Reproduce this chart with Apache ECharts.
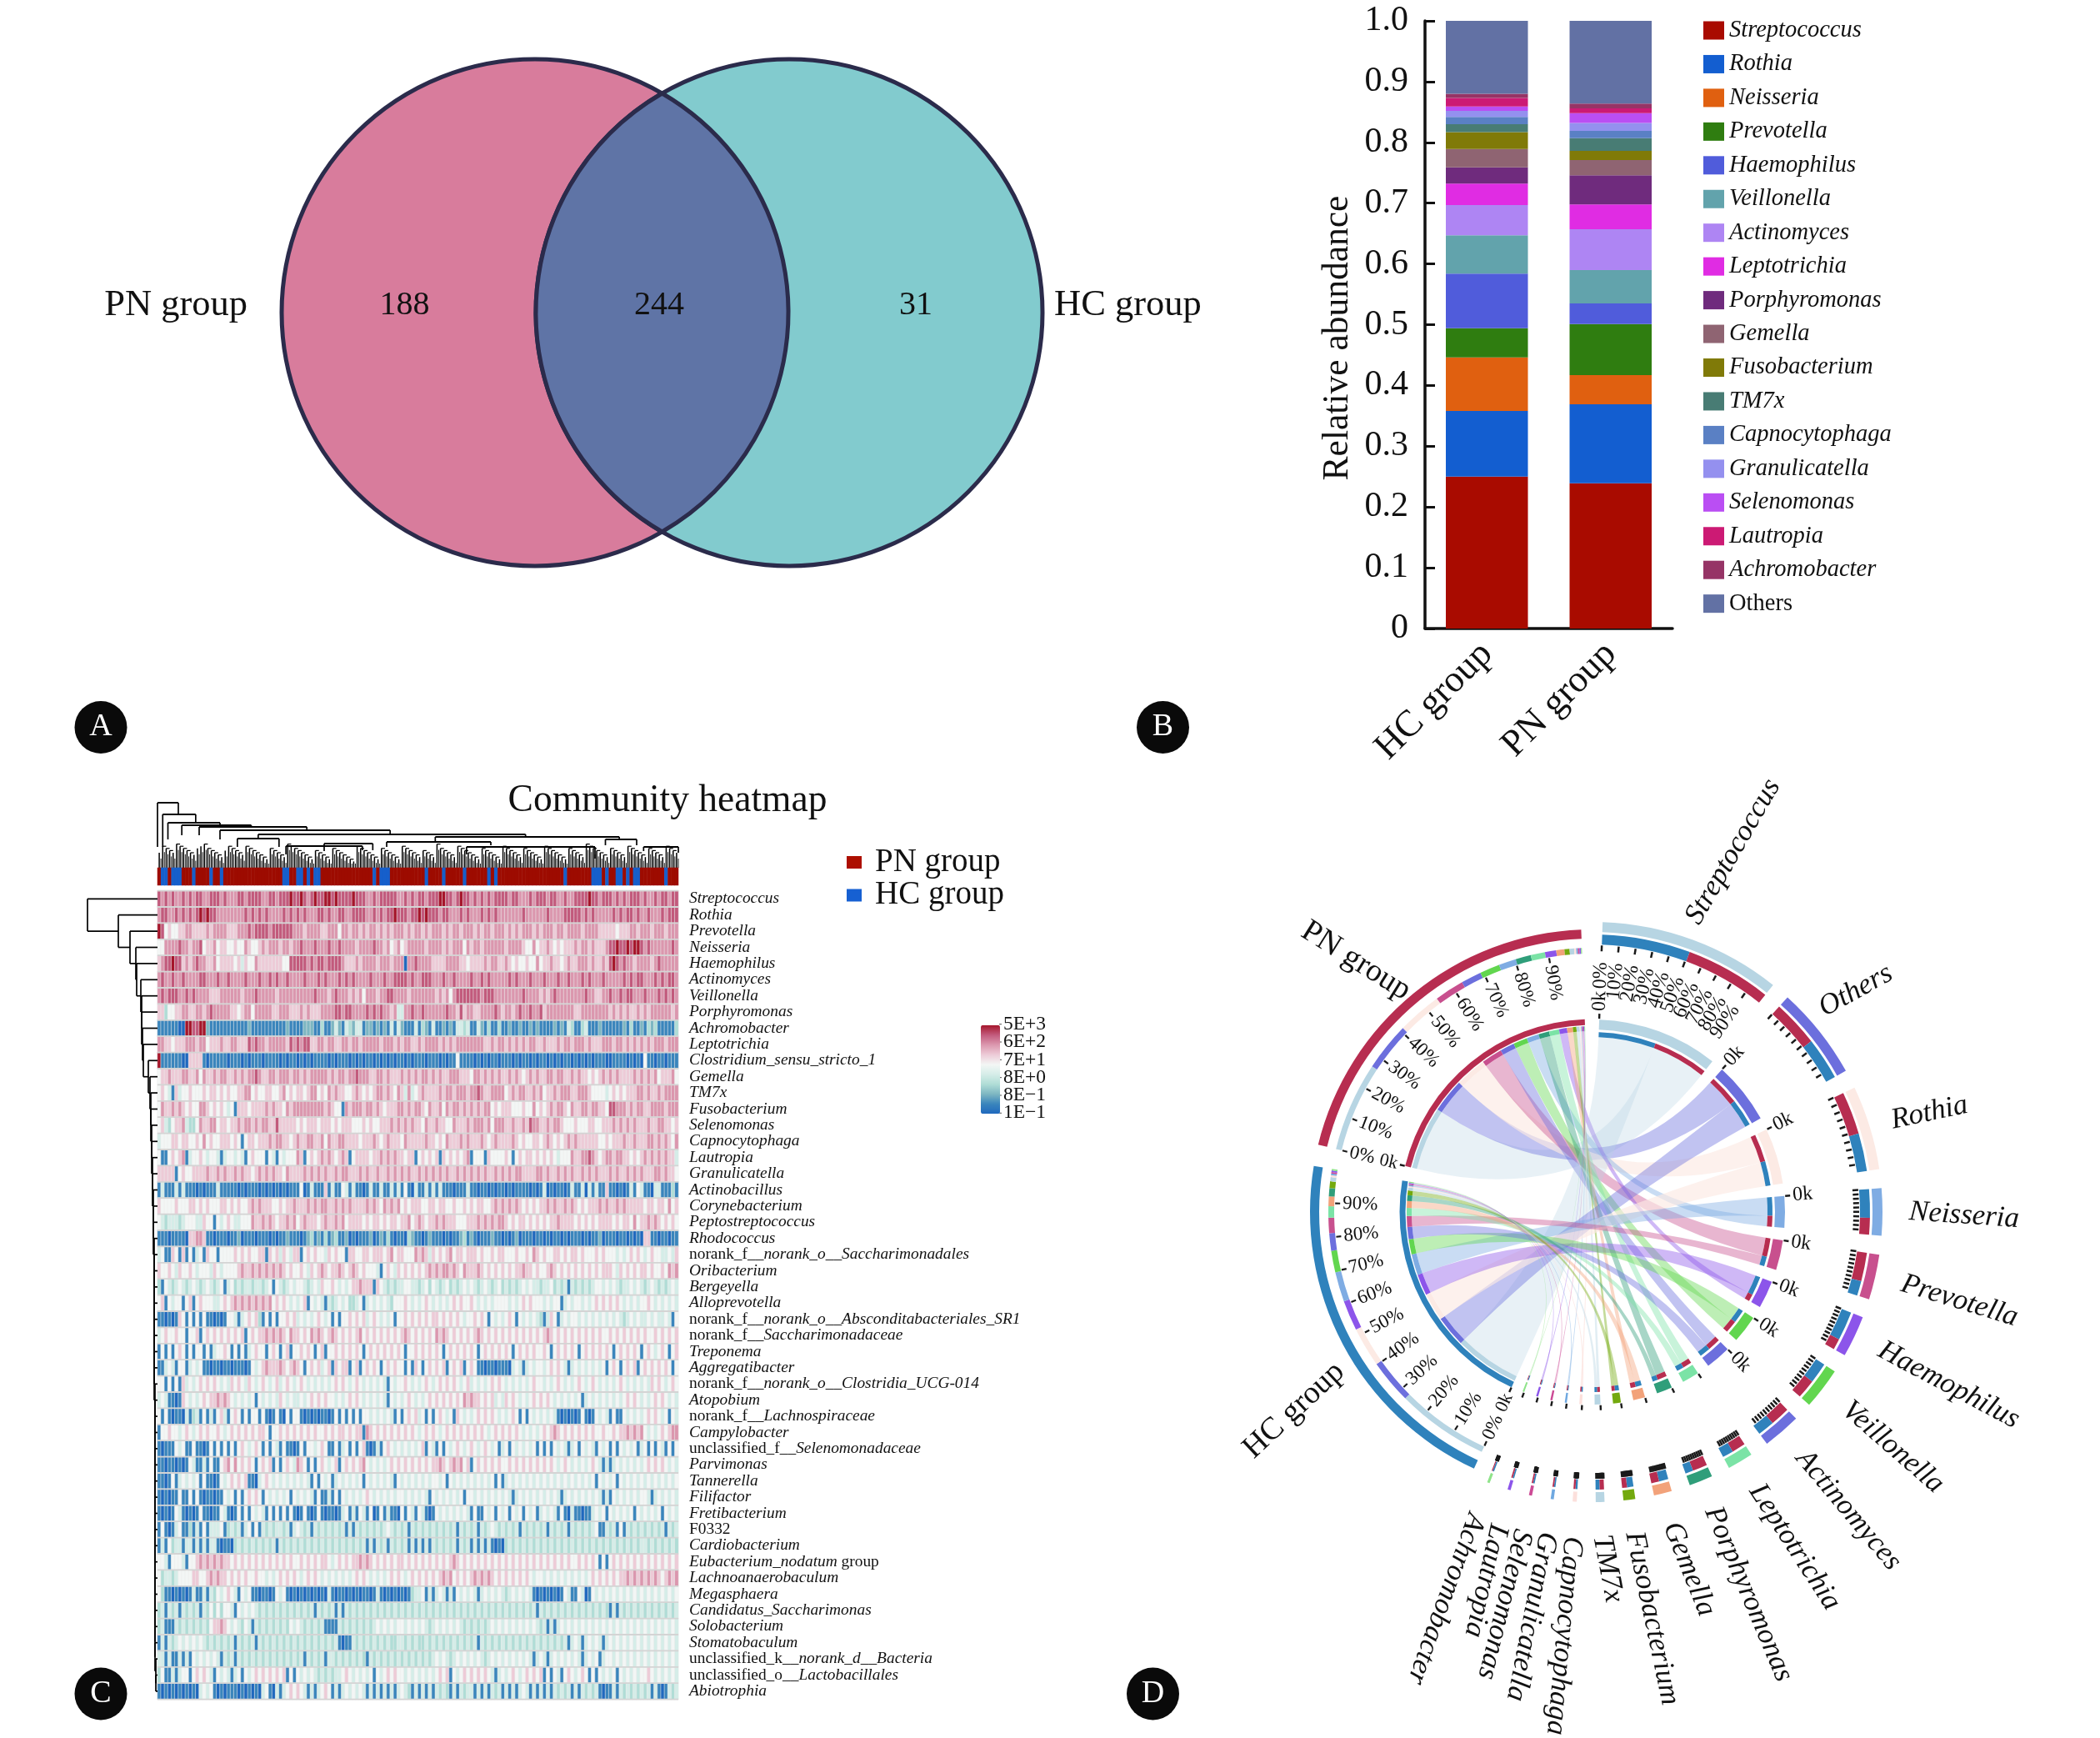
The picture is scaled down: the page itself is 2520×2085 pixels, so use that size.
<!DOCTYPE html>
<html><head><meta charset="utf-8"><style>html,body{margin:0;padding:0;background:#fff}#c{width:2520px;height:2085px}</style>
<script src="https://cdn.jsdelivr.net/npm/echarts@6/dist/echarts.min.js"></script></head><body><div id="c"></div>
<script>
const FONT='"Liberation Serif"';
// ---------- Panel A
const vennNames=['PN group','HC group'];
const vennCounts=[188,244,31];
// ---------- Panel B
const barGroups=['HC group','PN group'];
const barGenera=['Streptococcus','Rothia','Neisseria','Prevotella','Haemophilus','Veillonella','Actinomyces','Leptotrichia','Porphyromonas','Gemella','Fusobacterium','TM7x','Capnocytophaga','Granulicatella','Selenomonas','Lautropia','Achromobacter','Others'];
const barHC=[.25,.108,.088,.048,.09,.063,.05,.035,.027,.03,.028,.013,.012,.01,.007,.014,.007,.12];
const barPN=[.239,.13,.048,.084,.034,.055,.067,.041,.048,.025,.015,.021,.012,.013,.016,.008,.008,.136];
const barColors=['#A90B00','#135ED0','#E06010','#2F7D10','#505CDB','#62A3AC','#AE85F3','#E02CE3','#6F2B7D','#8F6472','#807A08','#487C74','#5A80C4','#9490EF','#BA4EF3','#CC1A74','#963466','#6271A4'];
// ---------- Panel C
const heatRowNames=['Streptococcus','Rothia','Prevotella','Neisseria','Haemophilus','Actinomyces','Veillonella','Porphyromonas','Achromobacter','Leptotrichia','Clostridium_sensu_stricto_1','Gemella','TM7x','Fusobacterium','Selenomonas','Capnocytophaga','Lautropia','Granulicatella','Actinobacillus','Corynebacterium','Peptostreptococcus','Rhodococcus','norank_f__norank_o__Saccharimonadales','Oribacterium','Bergeyella','Alloprevotella','norank_f__norank_o__Absconditabacteriales_SR1','norank_f__Saccharimonadaceae','Treponema','Aggregatibacter','norank_f__norank_o__Clostridia_UCG-014','Atopobium','norank_f__Lachnospiraceae','Campylobacter','unclassified_f__Selenomonadaceae','Parvimonas','Tannerella','Filifactor','Fretibacterium','F0332','Cardiobacterium','Eubacterium_nodatum group','Lachnoanaerobaculum','Megasphaera','Candidatus_Saccharimonas','Solobacterium','Stomatobaculum','unclassified_k__norank_d__Bacteria','unclassified_o__Lactobacillales','Abiotrophia'];
const heatRows=[
"8787877878 7887788878 7778878888 7788788898 8987898899 8988889888 7787888887 7878788788 8998878988 7878787888 8788777878 8878877877 8888988788 8787878887 8778788788",
"7887787878 7898988777 7777787878 7877778787 8787778878 7788778888 7787878898 8878898988 8788777878 7778787877 7777787777 7787777888 8878787777 7878788787 7877787888",
"9856556677 6666767777 6667778788 8878888887 7767777667 7757767767 6776767677 7676776767 7767677677 7676776777 6767677767 6777677677 7767777666 6656667767 7767776777",
"5577778776 7785667566 5565576556 7677767767 7877787778 7787777677 7787767567 5677777677 7767677757 6776777777 6777765575 6676565666 7677676667 8898898998 7877777787",
"6788988676 7877667566 6656465576 6666665588 8887878878 8887666767 7776777677 7077877776 6667777665 6666767766 7656556557 5667665676 6777676676 8987877677 7767877777",
"7877877877 7788777877 8777787778 7787877877 7787778787 7787878777 7877787788 8878778887 7787787777 8778787777 7878777877 7877787787 7787877787 7777878788 7778787887",
"7878887787 8777766677 7777677787 7777677777 7777787776 7877767675 7776778877 7767777777 6767578888 8887888777 7777787777 6767877777 7778776677 8778788777 8777878787",
"6635566776 6776787777 7665677577 7776677766 6767666777 7887887777 8787877674 4778778777 7778776867 7667777876 7767877877 8677777777 6677777777 6767676676 7677777767",
"1111110099 8899211111 1111112111 1111111211 1122211311 2421432441 2212121414 2111413214 1121214434 1142131131 1211211212 1111212143 1134111211 1111213112 1323111113",
"7766566677 7677566676 6776668787 7677777687 8788667767 7667767767 7777677767 6776676777 7676767777 7777667677 6767676776 6766676776 7776766677 7677676767 6767776777",
"9111111006 6661011111 0111010111 0111101011 0101011110 1011101010 1101010101 1010111011 1010115111 1010101101 1101011010 1101010110 1010101110 0111101010 5110110111",
"5667666776 6757667677 6676767787 6677677767 7676777776 7677677877 7667767666 7676767767 6766777666 5776767676 6767656767 6677677667 6766565676 7676666767 6767566675",
"5654164556 5556566565 6556677565 5665567565 6656775657 6766556765 6567767657 6474567666 6767767776 7787667777 5676776676 7566767776 6777655554 5656566677 6766767777",
"5766767656 5577656565 4516665666 6767665767 7777777767 6551767776 7767656667 7676776576 6757677676 7676775656 6655565575 6567677657 6677677665 8877767677 6677776777",
"5643566743 3576677566 5667677676 7766866666 5656665666 5656665556 5655666767 6767665766 7665576667 6777675777 6676676877 6676776555 6555665566 6767676766 6766776656",
"4555665665 5657565566 6565156656 6676776656 7667766757 6677666656 6676567666 5766666766 5657666767 6667656766 6676565566 5676565676 7666666556 5666766766 6776767657",
"5115656714 5565455414 5545415655 5154154555 7615656767 6567615666 6566767676 6566156565 6165656567 1555165555 6515656656 5656545557 6677876567 7677665656 7676767664",
"6666615655 6666766767 6676766567 6767665766 6676767676 6767766676 7667667676 7676676767 6767667676 7676766767 6767766667 7676676767 6676767666 7676676767 6667767665",
"1411141411 1010111411 1110101110 1010101011 1501411161 4115414110 1411411414 1510411414 1411101114 1101101011 0101111010 1401011014 1140414116 1101014154 1104411131",
"6555565556 6565655566 5656556767 6665565667 6667676776 6767676666 7676576767 5656665566 5665565565 6566556767 6767656565 6676766767 6565666767 6676766666 5665665756",
"5434443455 5446551545 6544555766 7676566767 5676665676 6767566665 6566565665 6675676566 7676665556 6676767677 6565665656 5656676666 5656565666 6565665756 6767656565",
"1110111106 6776110111 0112011101 1101011211 1012312131 2311201011 1201213101 1032110121 1101011231 2101112110 1012011101 1010110101 1101011201 1101101010 6611011011",
"4511651615 1451655155 5565656556 6165646546 6156565546 5655166556 6566656756 6555767646 5656756656 6656556566 5556556576 5655665656 6565556565 5545456565 4565544546",
"6556546556 5455546545 5556766767 6767676565 5654656765 6676567656 5554156546 5656565676 7677676576 6676565656 5656676656 5567656565 6565656566 6546565656 6565565767",
"3154345434 5434543451 4534344344 3451543454 5543454655 6545456676 6616543434 4554434535 4345343454 5434543453 4343454544 3445343414 3434345545 4543445454 3454343454",
"5615455156 1565554456 5676767676 7675656545 4561545414 3454533451 4545454355 5654545654 5454565655 6545454555 5454565655 5454551454 5545456565 6565454545 5654545454",
"1101016515 1515110101 5541456563 1515155656 4545456545 1515565656 4565454515 5656565656 6565656545 5656515454 5651545454 3146514545 5454545454 5454345454 4545445415",
"4565565515 5615656565 6565615656 6767676576 6565767656 7656565675 6565656565 6765656565 7676565656 5676565656 5656565656 5676565656 5656565655 6565656565 6556565656",
"1515156515 1551514556 5151514565 5156515615 5656515615 5656565651 5656565656 5155656565 6515656565 6515656565 6515656565 5651565656 5156565656 5156565651 5654565156",
"1145415514 5451101101 1011101545 6766676567 6515656456 1656615615 6565156565 5151651565 6561565615 6511011011 1045414545 5456565414 5454545451 5651565615 6565656515",
"5515151645 4565656545 4656546545 6545645654 5654545454 5656545654 5454541545 5654545654 5656565456 4545456565 4545454565 5454565454 5654565454 5456545454 5465654565",
"4541101654 5456566767 6545454515 4545465454 4545656565 5454565654 5454541545 4565454565 6565656576 7665656454 6565454565 6565454545 4514545454 5454565654 5456565454",
"5151011041 3415141564 1565151551 5101510515 5101010110 1515151515 5454545415 1565645151 5654516545 4565656545 4565151545 4545410101 0151015454 1511545454 5656545154",
"1556554565 4565655654 5656565656 6515565656 5656565565 6566565661 7656565656 5656545656 5456565656 5656545656 5656545454 5656765656 5656565565 5656676767 5454565677",
"1011154511 5110151515 1515654565 1515415110 1515545651 1514515156 1014156545 4545456154 1515456545 6545654514 5154545451 5151545414 5154541545 1515454514 5151541515",
"1101101015 4114151156 7575656515 6561515654 7651515654 5615656567 5454545656 5656565656 6765676756 1565656565 5656565656 5656545654 5454565414 1454545454 5656565454",
"1101514545 4515110154 5656561104 5654545454 5454151545 1454545451 5454545415 4545454545 5451545454 5454545151 4545454545 4545454545 4545451545 4515454545 4545454545",
"1010115115 1510110115 4515156565 1545454515 4545415114 1515454545 6545454545 5454545415 4545454515 5454545454 5414545454 5454541454 5454545414 1545454545 5414545454",
"1010154101 0151101154 1015151545 4151515151 0151015101 1014514154 1501514110 5154154101 5454545454 1511545154 5154515451 4545415104 1101145451 5454545154 5454515454",
"1510145113 1415144451 3434145151 4343443414 5434143434 3434141434 3434345434 3414343434 3434341434 3414345434 3434143434 3414343414 3434345114 3415143434 3434341434",
"1415344144 1414144101 1034343434 3434143434 3434343434 3434343434 1414341434 3414141414 3434341434 1414141010 3434343434 3434343434 3434343434 3434343434 4343434343",
"5541555415 5676767676 6565656565 6565656565 5656565665 4565656676 7656565656 6565656565 6565676565 6565656565 6565656565 6565656565 5656565151 5656565656 5656565656",
"5344345555 6655676766 5656565565 5454565656 5456565454 5454545656 5454545656 5456565656 5676756565 6767676565 6565656545 5454545454 5454565656 5656676767 6767656767",
"5311010101 4114143545 6541545110 1101545101 0101010104 1011010101 1014101010 1013445141 4541415454 5414545454 3454545410 1010101541 1540154545 4545454545 4545454545",
"3414341434 3414353535 5415454543 4343434343 4343414343 4141434343 4343434343 4343434343 4343434343 4343434343 4343434341 4343434343 4343434343 1414343434 3434343434",
"3411143434 3434356676 5454354143 4343434354 5434343411 1143434343 4345454545 5454545434 5454545434 3434345454 5454545454 3414145454 5454545454 5454545454 5454545454",
"1414345454 5454343434 3414343414 3434343434 3434343434 3410114343 4343434334 4343433434 3434343434 3414343434 3434343434 3434343414 5414545414 5454545454 5454545454",
"4414114141 5454545414 3414343434 3434343434 3414343414 4343434343 1434343434 3434343434 5454345454 5454345454 5454545414 5414545454 5414545145 5454545454 5454545454",
"3511414551 5656541545 4145154565 6565656151 5454543434 3445654545 4515456565 5454545454 5656154565 6565654145 4565456565 6151541565 4565151545 4515454545 5654545454",
"1010101010 1045451010 1110101010 4510414565 6541414565 1414545454 1414141414 5431414141 4343141434 4141414341 4141454141 4141434341 4143434101 1414343434 3414101434"
].map(s=>s.replace(/ /g,''));
const hcColumns=[1,2,4,5,6,10,15,18,36,37,40,41,43,45,46,62,64,65,66,77,82,88,95,97,117,125,126,127,129,132,133,135,137,138,146];
const heatTicks=['5E+3','6E+2','7E+1','8E+0','8E−1','1E−1'];
const colStems="5876598765 4789765436 8765487654 3276543987 6543265432 7654321876 5432765432 8765436543 9765438765 4327654328 7654376543 2876543276 5439876543 7654387654 3765438765".replace(/ /g,'');
const colMerges=[[0,6,78,25,64],[1.5,11,64,25,54],[3,18,54,34,51],[7,27,51,39,49],[12,43,49,39,45],[18,67,45,34,40],[29,106,40,35,37],[23,35,35,25,25],[80,133,37,31,34],[66,96,31,25,27],[129,138,34,27,27],[37,59,26,16,21],[48,62,29,20,21],[89,126,25,16,11],[140,150,25,20,18]];
const rowDepth=[84,47,33,26,25,20,19,19,18,17,11,9,8,8,7,7,6,6,5,5,5,4,4,4,4,4,4,4,4,4,3,3,3,3,3,3,3,3,3,3,3,3,3,3,3,3,3,2,2];
// ---------- Panel D
const chordGenera=['Streptococcus','Others','Rothia','Neisseria','Prevotella','Haemophilus','Veillonella','Actinomyces','Leptotrichia','Porphyromonas','Gemella','Fusobacterium','TM7x','Capnocytophaga','Granulicatella','Selenomonas','Lautropia','Achromobacter'];
const chordPN=[17.5,9.5,8.7,3.4,5.8,2.2,3.9,4,2.8,3,1.6,1,.9,.4,.3,.3,.3,.2];
const chordHC=[18,8.6,7.7,5.8,3,5.9,4.2,3.4,2.2,1.6,1.9,1.3,.8,.4,.3,.3,.3,.3];
const chordFirst='HPPHPHHPPPHHPHHHHH';
const chordColors=['#B7D5E3','#6C6FDD','#FCEAE4','#7FACE3','#C8508E','#8C55EA','#62D64F','#6C6FDD','#7BE3A6','#2F9E7A','#F2A27A','#73A90E','#B7D5E3','#FCE0DC','#6FA8E0','#CC4A95','#8C55EA','#8FE38A'];
const chordPercent=['0%','10%','20%','30%','40%','50%','60%','70%','80%','90%'];

// ---------- layout constants
const PN_C='#B72D50',HC_C='#2F82BC',CX=1911,CY=1454;
const labelR=[368,366,375,380,381,382,383,383,383,383,385,387,388,390,388,390,391,388];
const labelDA=[-1.2,-3,0,0,0,0,0,0,0,0,0,0,0,0,0,0,0,0];
const labelRot=[-60,-29,-12,4,17,28,41,50,57,67,68,78,79,95,101,104,103,110];
const rad=d=>(d-90)*Math.PI/180;
const sum=a=>a.reduce((x,y)=>x+y,0);
const GAP=3.75, S0=2, S1=201.3;
const tot=chordPN.reduce((s,v,i)=>s+v+chordHC[i],0);
const kS=(S1-S0-17*GAP)/tot;
let arcsEl=[],chordEl=[],textEl=[],tickEl=[];
const sp=[];let ang=S0;
chordGenera.forEach((g,i)=>{const span=(chordPN[i]+chordHC[i])*kS;sp.push({a0:ang,a1:ang+span});ang+=span+GAP;});
const groupDefs=[{name:'PN group',vals:chordPN,a0:283.8,a1:357.7,c:PN_C,key:'P',lr:414,lt:316.7,lrot:32},{name:'HC group',vals:chordHC,a0:204.8,a1:279.4,c:HC_C,key:'H',lr:430,lt:236.4,lrot:-43}];
const arc=(r0,r,a0,a1,c)=>arcsEl.push({k:'arc',r0,r,a0,a1,c});
const tick=(r0,r,a,w,c)=>tickEl.push({k:'tick',r0,r,a,w,c});
const text=(r,a,rot,t,font,align)=>textEl.push({k:'text',r,a,rot,t,font,align});
chordGenera.forEach((g,i)=>{
  const s=sp[i],span=s.a1-s.a0,tv=chordPN[i]+chordHC[i];
  const first=chordFirst[i],v1=first==='P'?chordPN[i]:chordHC[i];
  const mid=s.a0+span*v1/tv,c1=first==='P'?PN_C:HC_C,c2=first==='P'?HC_C:PN_C;
  s.P=first==='P'?[s.a0,mid]:[mid,s.a1]; s.H=first==='H'?[s.a0,mid]:[mid,s.a1];
  arc(336,348,s.a0,s.a1,chordColors[i]);
  arc(321,333,s.a0,mid,c1);arc(321,333,mid,s.a1,c2);
  for(let t=0;t<10;t++){const a=s.a0+span*t/10;tick(313,320,a,2.5,'#1a1a1a');
    if(i===0)text(300,a,a-90,chordPercent[t],'24px '+FONT,'right');}
  arc(219,231,s.a0,s.a1,chordColors[i]);
  arc(210,216,s.a0,mid,c1);arc(210,216,mid,s.a1,c2);
  tick(232,238,s.a0,2.4,'#1a1a1a');
  if(i<8)text(241,s.a0,s.a0-90,'0k','24px '+FONT,'left');
  text(labelR[i],(s.a0+s.a1)/2+labelDA[i],labelRot[i],g,'italic 35px '+FONT,'left');
});
groupDefs.forEach(G=>{
  const k=(G.a1-G.a0)/sum(G.vals);
  arc(328,339,G.a0,G.a1,G.c);arc(224.5,231.5,G.a0,G.a1,G.c);
  const order=G.vals.map((v,i)=>i).sort((a,b)=>G.vals[b]-G.vals[a]);
  let a=G.a0;
  order.forEach(i=>{const e=a+G.vals[i]*k;
    arc(310,317,a,e,chordColors[i]);arc(217,223,a,e,chordColors[i]);
    const seg=sp[i][G.key];
    chordEl.push({k:'chord',a0:a,a1:e,b0:seg[0],b1:seg[1],c:chordColors[i],o:i===0?.32:(i===2||i===13?.65:.42)});
    a=e;});
  const gs=G.a1-G.a0;
  chordPercent.forEach((t,j)=>{const p=G.a0+gs*j/10;tick(303,309,p,2.2,'#1a1a1a');text(300,p,p-270,t,'23px '+FONT,'left');});
  tick(232,238,G.a0,2.4,'#1a1a1a');
  text(241,G.a0,G.a0-270,'0k','22px '+FONT,'right');
  textEl.push({k:'text',r:G.lr,a:G.lt,rot:G.lrot,t:G.name,font:'38px '+FONT,align:'center'});
});
const chordItems=[...chordEl,...arcsEl,...tickEl,...textEl];
const pol=(cx,cy,r,a)=>[cx+r*Math.sin(a*Math.PI/180),cy-r*Math.cos(a*Math.PI/180)];
function chordRender(params,api){
  const it=chordItems[params.dataIndex];const [cx,cy]=api.coord([CX,CY]);
  if(it.k==='arc')return {type:'sector',shape:{cx,cy,r0:it.r0,r:it.r,startAngle:rad(it.a0),endAngle:rad(it.a1),clockwise:true},style:{fill:it.c}};
  if(it.k==='tick'){const p=pol(cx,cy,it.r0,it.a),q=pol(cx,cy,it.r,it.a);return {type:'line',shape:{x1:p[0],y1:p[1],x2:q[0],y2:q[1]},style:{stroke:it.c,lineWidth:it.w}};}
  if(it.k==='chord'){const R1=217,R2=210;const A=pol(cx,cy,R1,it.a0),B=pol(cx,cy,R1,it.a1),C=pol(cx,cy,R2,it.b0),D=pol(cx,cy,R2,it.b1);
    const d=`M${A[0]} ${A[1]}A${R1} ${R1} 0 0 1 ${B[0]} ${B[1]}Q${cx} ${cy} ${C[0]} ${C[1]}A${R2} ${R2} 0 0 1 ${D[0]} ${D[1]}Q${cx} ${cy} ${A[0]} ${A[1]}Z`;
    return {type:'path',shape:{pathData:d},style:{fill:it.c,opacity:it.o}};}
  const p=pol(cx,cy,it.r,it.a);
  return {type:'text',x:p[0],y:p[1],rotation:-it.rot*Math.PI/180,style:{text:it.t,font:it.font,fill:'#111',align:it.align,verticalAlign:'middle'}};
}
const VY=375,VR=304,VXP=642,VXH=947;
function vennRender(params,api){
  const i=params.dataIndex;const P=api.coord([VXP,VY]),H=api.coord([VXH,VY]);
  const stroke={stroke:'#2B2B4B',lineWidth:5};
  if(i===0){const hx=(P[0]+H[0])/2,hh=Math.sqrt(VR*VR-(H[0]-P[0])*(H[0]-P[0])/4);
    const d=`M${hx} ${P[1]-hh}A${VR} ${VR} 0 0 1 ${hx} ${P[1]+hh}A${VR} ${VR} 0 0 1 ${hx} ${P[1]-hh}Z`;
    return {type:'group',children:[
      {type:'circle',shape:{cx:P[0],cy:P[1],r:VR},style:{fill:'#D87C9C',...stroke}},
      {type:'circle',shape:{cx:H[0],cy:H[1],r:VR},style:{fill:'#82CBCE',...stroke}},
      {type:'path',shape:{pathData:d},style:{fill:'#5F74A6',...stroke}}]};}
  const xs=[485.5,791,1099];
  const q=api.coord([xs[i-1],366]);
  return {type:'text',x:q[0],y:q[1],style:{text:String(vennCounts[i-1]),font:'40px '+FONT,fill:'#111',align:'center',verticalAlign:'middle'}};
}
function vennNameRender(params,api){
  const xs=[297,1265],al=['right','left'];const i=params.dataIndex;const q=api.coord([xs[i],366]);
  return {type:'text',x:q[0],y:q[1],style:{text:vennNames[i],font:'44.5px '+FONT,fill:'#111',align:al[i],verticalAlign:'middle'}};
}
const heatData=[];heatRows.forEach((r,y)=>{for(let x=0;x<r.length;x++)heatData.push([x,y,+r[x]]);});
const COLS=heatRows[0].length;
const colCats=Array.from({length:COLS},(_,i)=>String(i));
const annotData=colCats.map((c,i)=>[i,0,hcColumns.includes(i)?1:0]);
function rowFmt(n){
  let m=n.match(/^((?:norank|unclassified)_[a-z]__)(.*)$/);
  if(m)return '{u|'+m[1]+'}{i|'+m[2]+'}';
  if(n==='F0332')return '{u|F0332}';
  if(n.endsWith(' group'))return '{i|'+n.slice(0,-6)+'}{u| group}';
  return '{i|'+n+'}';
}
function topDendro(params,api){
  const ch=[];const L=(x1,y1,x2,y2,w)=>{const a=api.coord([x1,y1]),b=api.coord([x2,y2]);ch.push({type:'line',shape:{x1:a[0],y1:a[1],x2:b[0],y2:b[1]},style:{stroke:'#000',lineWidth:w||1.4}});};
  const h=i=>(+colStems[i])*2.6+5;
  for(let i=0;i<COLS;i++){L(i+.5,0,i+.5,h(i),1.5);L(i+1,0,i+1,Math.max(5,h(i)-7),.9);if(i<COLS-1&&h(i)>h(i+1))L(i+.5,h(i),i+1.5,h(i),1.2);}
  colMerges.forEach(m=>{L(m[0],m[2],m[1],m[2],1.9);L(m[0],m[2],m[0],m[3],1.7);L(m[1],m[2],m[1],m[4],1.7);});
  return {type:'group',children:ch};
}
function leftDendro(params,api){
  const ch=[];const L=(x1,y1,x2,y2)=>{const a=api.coord([x1,y1]),b=api.coord([x2,y2]);ch.push({type:'line',shape:{x1:a[0],y1:a[1],x2:b[0],y2:b[1]},style:{stroke:'#000',lineWidth:1.7}});};
  let ny=heatRows.length-.5,nx=0;
  for(let i=rowDepth.length-1;i>=0;i--){const y=i+.5,d=rowDepth[i];
    L(0,y,d,y);L(nx,ny,d,ny);L(d,y,d,ny);ny=(y+ny)/2;nx=d;}
  return {type:'group',children:ch};
}
function sepRender(params,api){
  const c=params.coordSys,i=params.dataIndex;const y=c.y+i*c.height/heatRows.length;
  return {type:'line',shape:{x1:c.x,y1:y,x2:c.x+c.width,y2:y},style:{stroke:'#D4D4D4',lineWidth:1.8}};
}
const series=[];
series.push({type:'custom',xAxisIndex:0,yAxisIndex:0,renderItem:vennRender,data:[0,1,2,3].map(i=>[i]),silent:true,z:2});
series.push({type:'custom',xAxisIndex:0,yAxisIndex:0,renderItem:vennNameRender,data:[[0],[1]],silent:true,z:2});
barGenera.forEach((g,i)=>series.push({name:g,type:'bar',stack:'t',xAxisIndex:1,yAxisIndex:1,barWidth:98.5,itemStyle:{color:barColors[i]},data:[barHC[i],barPN[i]]}));
series.push({name:'PN group',type:'scatter',xAxisIndex:0,yAxisIndex:0,data:[],itemStyle:{color:'#AD0F00',opacity:1}});
series.push({name:'HC group',type:'scatter',xAxisIndex:0,yAxisIndex:0,data:[],itemStyle:{color:'#1660D2',opacity:1}});
series.push({type:'custom',xAxisIndex:2,yAxisIndex:2,renderItem:topDendro,data:[[0]],silent:true});
const annotIdx=series.length;
series.push({type:'heatmap',xAxisIndex:3,yAxisIndex:3,data:annotData,progressive:0,silent:true});
const heatIdx=series.length;
series.push({type:'heatmap',xAxisIndex:4,yAxisIndex:4,data:heatData,progressive:0,silent:true,itemStyle:{borderColor:'rgba(236,236,236,.55)',borderWidth:1}});
series.push({type:'custom',xAxisIndex:4,yAxisIndex:4,renderItem:sepRender,data:Array.from({length:heatRows.length+1},(_,i)=>[i]),silent:true,z:5});
series.push({type:'custom',xAxisIndex:5,yAxisIndex:5,renderItem:leftDendro,data:[[0]],silent:true});
series.push({type:'custom',xAxisIndex:0,yAxisIndex:0,renderItem:chordRender,data:chordItems.map((_,i)=>[i]),silent:true,z:3});

const hiddenVal=(o)=>Object.assign({type:'value',show:false},o);
const HL=189,HW=625,HT=1068.6,HH=970;
const badge=(x,y,t)=>[{type:'circle',shape:{cx:x,cy:y,r:31.5},style:{fill:'#0A0A0A'}},{type:'text',x,y,style:{text:t,font:'38px '+FONT,fill:'#fff',align:'center',verticalAlign:'middle'}}];
const LGX=1176,LGY=1228.7,LGH=106.6;
const heatLegendEls=heatTicks.flatMap((t,i)=>{const y=LGY+i*LGH/5;return [
  {type:'text',x:LGX+28,y,style:{text:t,font:'23.5px '+FONT,fill:'#111',align:'left',verticalAlign:'middle'}},
  {type:'line',shape:{x1:LGX+23,y1:y,x2:LGX+26,y2:y},style:{stroke:'#555',lineWidth:1}}];});
const option={
  animation:false,backgroundColor:'#fff',
  title:[{text:'Community heatmap',left:796,top:933,textAlign:'center',textStyle:{fontFamily:FONT,fontSize:45.5,fontWeight:'normal',color:'#111'}}],
  legend:[
    {data:barGenera,orient:'vertical',left:2044,top:22,padding:0,itemWidth:25,itemHeight:22,itemGap:11.45,icon:'rect',selectedMode:false,
     formatter:n=>n==='Others'?'{n|Others}':'{i|'+n+'}',
     textStyle:{fontFamily:FONT,fontSize:28.5,color:'#111',lineHeight:22,padding:[0,0,0,1],rich:{i:{fontFamily:FONT,fontSize:28.5,fontStyle:'italic',color:'#111',lineHeight:22},n:{fontFamily:FONT,fontSize:28.5,color:'#111',lineHeight:22}}}},
    {data:['PN group','HC group'],orient:'vertical',left:1016,top:1015,padding:0,itemWidth:18,itemHeight:15,itemGap:.5,icon:'rect',selectedMode:false,
     textStyle:{fontFamily:FONT,fontSize:39,color:'#111',lineHeight:30,padding:[0,0,0,11]}}
  ],
  grid:[
    {left:0,top:0,width:2520,height:2085},
    {left:1710,top:25,width:297,height:729},
    {left:HL,top:960,width:HW,height:81},
    {left:HL,top:1041,width:HW,height:21},
    {left:HL,top:HT,width:HW,height:HH},
    {left:85,top:HT,width:104,height:HH}
  ],
  xAxis:[
    hiddenVal({gridIndex:0,min:0,max:2520}),
    {type:'category',gridIndex:1,data:barGroups,axisLine:{lineStyle:{color:'#111',width:3.5}},axisTick:{inside:true,length:11,lineStyle:{color:'#111',width:3},alignWithLabel:true},
     axisLabel:{rotate:45,fontFamily:FONT,fontSize:45,color:'#111',margin:24}},
    hiddenVal({gridIndex:2,min:0,max:COLS}),
    {type:'category',show:false,gridIndex:3,data:colCats},
    {type:'category',show:false,gridIndex:4,data:colCats},
    hiddenVal({gridIndex:5,min:0,max:104,inverse:true})
  ],
  yAxis:[
    hiddenVal({gridIndex:0,min:0,max:2085,inverse:true}),
    {type:'value',gridIndex:1,min:0,max:1,interval:.1,splitLine:{show:false},
     axisLine:{show:true,lineStyle:{color:'#111',width:3.5}},axisTick:{show:true,inside:true,length:12,lineStyle:{color:'#111',width:3}},
     axisLabel:{fontFamily:FONT,fontSize:42,color:'#111',margin:20,padding:[12,0,0,0],formatter:v=>v===0?'0':v.toFixed(1)},
     name:'Relative abundance',nameLocation:'middle',nameGap:82,nameTextStyle:{fontFamily:FONT,fontSize:43.5,color:'#111',padding:[0,32,0,0]}},
    hiddenVal({gridIndex:2,min:0,max:81}),
    {type:'category',show:false,gridIndex:3,data:['a']},
    {type:'category',gridIndex:4,data:heatRowNames,inverse:true,position:'right',axisLine:{show:false},axisTick:{show:false},
     axisLabel:{interval:0,margin:13,fontFamily:FONT,fontSize:19.4,color:'#111',formatter:rowFmt,
       rich:{i:{fontFamily:FONT,fontSize:19.4,fontStyle:'italic',color:'#111'},u:{fontFamily:FONT,fontSize:19.4,color:'#111'}}}},
    hiddenVal({gridIndex:5,min:0,max:heatRows.length,inverse:true})
  ],
  visualMap:[
    {type:'continuous',seriesIndex:heatIdx,dimension:2,min:0,max:9,calculable:false,orient:'vertical',left:LGX+1,top:LGY+1,padding:0,itemWidth:23,itemHeight:LGH,text:null,showLabel:false,
     inRange:{color:['#1F68BE','#3A85BC','#7DB6C2','#B0DDD6','#D5EDE8','#F3F6F5','#EDCBD7','#DB97AE','#C25A7C','#A5152A']}},
    {type:'piecewise',show:false,seriesIndex:annotIdx,dimension:2,pieces:[{value:0,color:'#9D0B00'},{value:1,color:'#165FCB'}]}
  ],
  graphic:[...badge(121,872.5,'A'),...badge(1395.5,872.5,'B'),...badge(121,2032,'C'),...badge(1383.5,2032,'D'),...heatLegendEls],
  series
};
echarts.init(document.getElementById('c'),null,{renderer:'canvas'}).setOption(option);
</script></body></html>
